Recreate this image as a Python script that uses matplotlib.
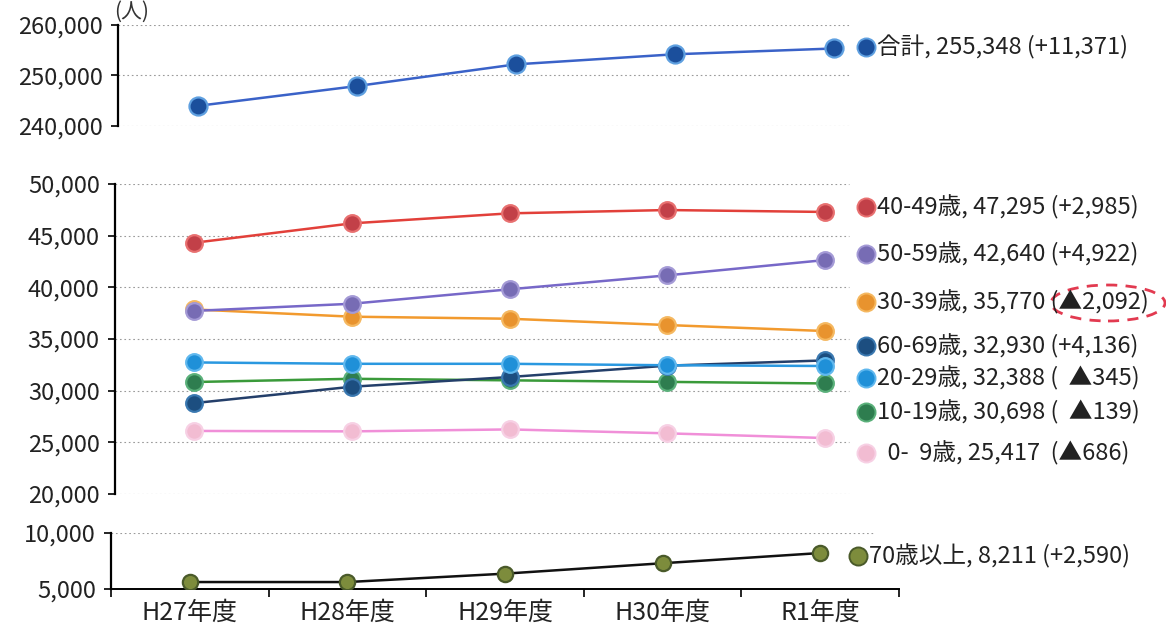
import matplotlib
matplotlib.use("Agg")
import matplotlib.pyplot as plt
from matplotlib.lines import Line2D
from matplotlib.patches import Ellipse
from matplotlib.ticker import FuncFormatter

plt.rcParams['font.family'] = ['Noto Sans CJK JP', 'DejaVu Sans']

# data
cats = ['H27年度', 'H28年度', 'H29年度', 'H30年度', 'R1年度']
total = [243977, 247900, 252200, 254200, 255348]
age40 = [44310, 46190, 47160, 47480, 47295]
age50 = [37718, 38410, 39810, 41160, 42640]
age30 = [37862, 37160, 36960, 36350, 35770]
age60 = [28794, 30380, 31320, 32420, 32930]
age20 = [32733, 32600, 32600, 32460, 32388]
age10 = [30837, 31150, 31000, 30850, 30698]
age0 = [26103, 26060, 26250, 25870, 25417]
age70 = [5621, 5620, 6370, 7300, 8211]

W, H = 1166, 630
fig = plt.figure(figsize=(W / 100, H / 100), dpi=100)


def rect(l, r, top, bot):
    return [l / W, 1 - bot / H, (r - l) / W, (bot - top) / H]


def px(x, y):
    return x / W, 1 - y / H


def fmt(v, pos=None):
    return f"{int(v):,}"


def style(ax, lo, hi, step, grid_end):
    ax.set_xlim(-0.5, 4.5)
    ax.set_ylim(lo, hi)
    ax.set_yticks(range(lo, hi + 1, step))
    ax.yaxis.set_major_formatter(FuncFormatter(fmt))
    for s in ['top', 'right', 'bottom']:
        ax.spines[s].set_visible(False)
    ax.spines['left'].set_linewidth(1.6)
    ax.tick_params(axis='y', labelsize=17, length=5, width=1.2, pad=6,
                   labelcolor='#222222')
    ax.tick_params(axis='x', bottom=False, labelbottom=False)
    for t in range(lo, hi + 1, step):
        ax.axhline(t, xmin=0, xmax=grid_end, color='#9a9a9a', lw=0.8,
                   ls=(0, (1.5, 2.5)), zorder=0)
    ax.patch.set_alpha(0)


def series(ax, y, line_c, mark_c, edge_c, ms):
    ax.plot(range(len(cats)), y, color=line_c, lw=1.8, marker='o', ms=ms,
            mfc=mark_c, mec=edge_c, mew=1.6, zorder=3)


def label(x, y, text, mark_c, edge_c, ms=13, fs=17):
    fig.add_artist(Line2D([px(x, y)[0]], [px(x, y)[1]], marker='o', ms=ms,
                          mfc=mark_c, mec=edge_c, mew=1.4,
                          transform=fig.transFigure))
    fig.text(*px(x + 11, y), text, fontsize=fs, va='center', ha='left',
             color='#222222')


def diff(y):
    d = y[-1] - y[0]
    return f"+{d:,}" if d >= 0 else f"▲{-d:,}"


# top panel: total
ax1 = fig.add_axes(rect(118, 913, 25, 126))
style(ax1, 240000, 260000, 10000, 0.92)
series(ax1, total, '#3a62c8', '#1b4f9c', '#5fa0e0', 13)
fig.text(*px(114, 12), '(人)', fontsize=15, va='center', ha='left',
         color='#333333')

# middle panel
ax2 = fig.add_axes(rect(115, 904, 184, 494))
style(ax2, 20000, 50000, 5000, 0.93)
series(ax2, age0, '#f08fd8', '#f2bcd2', '#f7d0e4', 12)
series(ax2, age10, '#3a9a3a', '#2e7d4f', '#5ab07a', 12)
series(ax2, age60, '#243f6a', '#1c4e80', '#3a78b0', 12)
series(ax2, age20, '#2a98e0', '#1f90d8', '#60b8ee', 12)
series(ax2, age30, '#f29a2e', '#e8932e', '#f5b860', 12)
series(ax2, age50, '#7768c8', '#776cb4', '#a49ad6', 12)
series(ax2, age40, '#e2403a', '#c24048', '#e87070', 12)

# bottom panel
ax3 = fig.add_axes(rect(111, 899, 533, 589))
style(ax3, 5000, 10000, 5000, 0.97)
ax3.spines['bottom'].set_visible(True)
ax3.spines['bottom'].set_linewidth(1.4)
series(ax3, age70, '#111111', '#7d8c3c', '#4a5a2a', 11)
ax3.set_xticks(range(len(cats)))
ax3.set_xticklabels(cats)
ax3.set_xticks([i - 0.5 for i in range(len(cats) + 1)], minor=True)
ax3.tick_params(axis='x', which='major', bottom=False, labelbottom=True,
                labelsize=18, pad=4, labelcolor='#222222')
ax3.tick_params(axis='x', which='minor', bottom=True, length=6, width=1.2)

# right-hand labels
label(866, 47, f"合計, {total[-1]:,} ({diff(total)})", '#1b4f9c', '#5fa0e0')
label(866, 207, f"40-49歳, {age40[-1]:,} ({diff(age40)})", '#c24048', '#e87070')
label(866, 254, f"50-59歳, {age50[-1]:,} ({diff(age50)})", '#776cb4', '#a49ad6')
label(866, 302, f"30-39歳, {age30[-1]:,} ({diff(age30)})", '#e8932e', '#f5b860')
label(866, 346, f"60-69歳, {age60[-1]:,} ({diff(age60)})", '#1c4e80', '#3a78b0')
label(866, 378, f"20-29歳, {age20[-1]:,} (  {diff(age20)})", '#1f90d8', '#60b8ee')
label(866, 412, f"10-19歳, {age10[-1]:,} (  {diff(age10)})", '#2e7d4f', '#5ab07a')
label(866, 453, f"  0-  9歳, {age0[-1]:,}  ({diff(age0)})", '#f2bcd2', '#f7d0e4')
label(858, 556, f"70歳以上, {age70[-1]:,} ({diff(age70)})", '#7d8c3c', '#4a5a2a')

# red dashed ellipse around the 30-39 change
cx, cy = px(1108, 303)
fig.add_artist(Ellipse((cx, cy), 114 / W, 36 / H, transform=fig.transFigure,
                       fill=False, edgecolor='#e23a50', lw=2,
                       ls=(0, (4, 3))))

fig.savefig("out.png", dpi=100)
